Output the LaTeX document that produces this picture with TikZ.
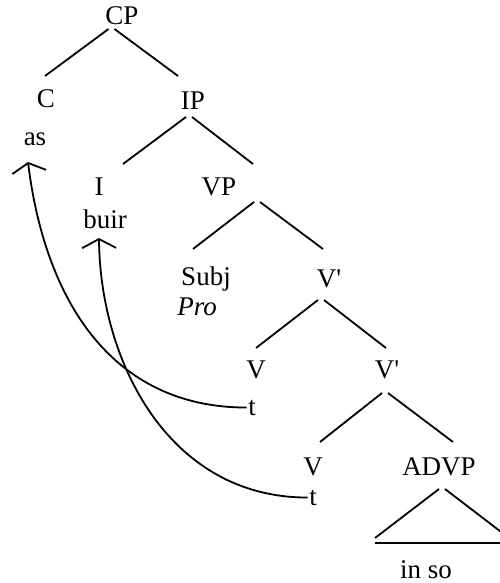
\documentclass[tikz,border=0pt]{standalone}
\usepackage{fontspec}
\setmainfont{Liberation Serif}
\usetikzlibrary{calc,arrows.meta}
\def\fork(#1)(#2)(#3){\draw[branch] ($(#1)+(-3,0)$) -- (#2); \draw[branch] ($(#1)+(3,0)$) -- (#3);}

\begin{document}
\begin{tikzpicture}[x=1pt,y=-1pt,
	lbl/.style={inner sep=1.5pt,anchor=base,font=\fontsize{27}{32}\selectfont},
	branch/.style={line width=1.8pt},
	move/.style={line width=1.8pt,-{Straight Barb[length=9pt,width=34pt]}}]
	%%%%% START %%%%%
	
	\useasboundingbox (0,0) rectangle (500,583);
	\clip (0,0) rectangle (500,583);
	
	\node[lbl] (CP) at (122,25) {CP};
	\node[lbl] (C) at (46,107) {C};
	\node[lbl] (IP) at (193,110) {IP};
	\node[lbl] (as) at (35,145) {as};
	\node[lbl] (I) at (99,195) {I};
	\node[lbl] (VP) at (219,195) {VP};
	\node[lbl] (buir) at (105,228) {buir};
	\node[lbl] (Subj) at (206,285) {Subj};
	\node[lbl] (Pro) at (197,315) {\itshape Pro};
	\node[lbl] (Vbar1) at (329,287) {V\textquotesingle};
	\node[lbl] (V1) at (256,378) {V};
	\node[lbl] (Vbar2) at (387,378) {V\textquotesingle};
	\node[lbl] (t1) at (252,415) {t};
	\node[lbl] (V2) at (313,475) {V};
	\node[lbl] (ADVP) at (439,475) {ADVP};
	\node[lbl] (t2) at (313,505) {t};
	\node[lbl,inner sep=0pt] (inso) at (426,578) {in so};
	
	\coordinate (cp-top) at (111.5,29);
	\coordinate (cp-l) at (45,76);
	\coordinate (cp-r) at (178,76);
	\coordinate (ip-top) at (189,117);
	\coordinate (ip-l) at (123,164);
	\coordinate (ip-r) at (253,164);
	\coordinate (vp-top) at (257,202);
	\coordinate (vp-l) at (193,249);
	\coordinate (vp-r) at (323,249);
	\coordinate (vb1-top) at (321,300);
	\coordinate (vb1-l) at (256,348);
	\coordinate (vb1-r) at (386,348);
	\coordinate (vb2-top) at (385,393);
	\coordinate (vb2-l) at (320,442);
	\coordinate (vb2-r) at (453,442);
	\coordinate (advp-top) at (442,489);
	\coordinate (advp-l) at (375,538);
	\coordinate (advp-r) at (509,538);
	
	\fork(cp-top)(cp-l)(cp-r);
	\fork(ip-top)(ip-l)(ip-r);
	\fork(vp-top)(vp-l)(vp-r);
	\fork(vb1-top)(vb1-l)(vb1-r);
	\fork(vb2-top)(vb2-l)(vb2-r);
	\fork(advp-top)(advp-l)(advp-r);
	\draw[branch] ($(advp-l)+(0,5)$) -- ($(advp-r)+(2,5)$);
	
	\coordinate (as-tip) at ($(as.base)+(-7,17)$);
	\coordinate (buir-tip) at ($(buir.base)+(-6,10)$);
	\draw[move] (t1.west) .. controls +(-135,0) and +(17,138) .. (as-tip);
	\draw[move] (t2.west) .. controls +(-140,0) and +(1,122) .. (buir-tip);
	
	%%%%% END %%%%%
\end{tikzpicture}
\end{document}
